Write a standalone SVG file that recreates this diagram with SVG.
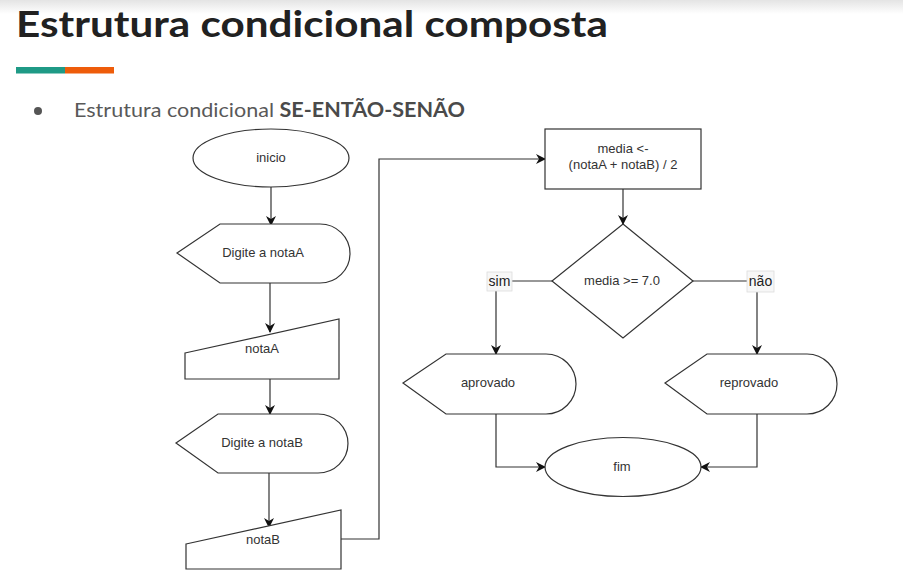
<svg xmlns="http://www.w3.org/2000/svg" width="903" height="579" viewBox="0 0 903 579">
  <defs>
    <linearGradient id="topShade" x1="0" y1="0" x2="0" y2="1">
      <stop offset="0" stop-color="#e4e4e4"/>
      <stop offset="1" stop-color="#ffffff"/>
    </linearGradient>
    <marker id="arrow" viewBox="0 0 10 10" refX="9" refY="5" markerWidth="10" markerHeight="10" markerUnits="userSpaceOnUse" orient="auto">
      <path d="M0,0 L10,5 L0,10 L3,5 z" fill="#111"/>
    </marker>
    <style>
      .shape { fill: #ffffff; stroke: #333333; stroke-width: 1.2; }
      .edge { fill: none; stroke: #333333; stroke-width: 1.2; }
      .lbl { font-family: "Liberation Sans", Arial, sans-serif; font-size: 13px; fill: #333333; text-anchor: middle; }
      .tag { font-family: "Liberation Sans", Arial, sans-serif; font-size: 14px; fill: #222222; text-anchor: middle; }
      .tagbox { fill: #f7f7f7; stroke: #dddddd; stroke-width: 0.8; }
    </style>
  </defs>

  <rect x="0" y="0" width="903" height="579" fill="#ffffff"/>
  <rect x="0" y="0" width="903" height="14" fill="url(#topShade)"/>

  <!-- heading -->
  <text x="16" y="37" font-family="Lato, 'Open Sans', sans-serif" font-weight="700" font-size="37" fill="#212121" textLength="592" lengthAdjust="spacingAndGlyphs">Estrutura condicional composta</text>
  <rect x="16" y="67" width="49" height="6.5" fill="#1f9a86"/>
  <rect x="65" y="67" width="49" height="6.5" fill="#ee5c0a"/>

  <circle cx="38" cy="111" r="4" fill="#555555"/>
  <text x="74" y="117" font-family="Lato, 'Open Sans', sans-serif" font-size="20" fill="#595959" textLength="391" lengthAdjust="spacingAndGlyphs">Estrutura condicional <tspan font-weight="700" fill="#4a4a4a">SE-ENTÃO-SENÃO</tspan></text>

  <!-- connectors -->
  <g id="connectors">
    <path class="edge" d="M271,187 V225" marker-end="url(#arrow)"/>
    <path class="edge" d="M270,283 V332" marker-end="url(#arrow)"/>
    <path class="edge" d="M270,379 V414" marker-end="url(#arrow)"/>
    <path class="edge" d="M269,473 V527" marker-end="url(#arrow)"/>
    <path class="edge" d="M341,539 H379 V159 H545" marker-end="url(#arrow)"/>
    <path class="edge" d="M623,189 V224" marker-end="url(#arrow)"/>
    <path class="edge" d="M552,281 H496 V354" marker-end="url(#arrow)"/>
    <path class="edge" d="M693,281 H757 V354" marker-end="url(#arrow)"/>
    <path class="edge" d="M496,414 V467 H545" marker-end="url(#arrow)"/>
    <path class="edge" d="M757,414 V467 H701" marker-end="url(#arrow)"/>
    <rect class="tagbox" x="487" y="272" width="25" height="19"/>
    <text class="tag" x="499.5" y="286">sim</text>
    <rect class="tagbox" x="747" y="271" width="27" height="21"/>
    <text class="tag" x="760.5" y="286">não</text>
  </g>

  <g id="inicio">
    <ellipse class="shape" cx="271" cy="158" rx="78" ry="29"/>
    <text class="lbl" x="271" y="162">inicio</text>
  </g>

  <g id="digite-notaA">
    <path class="shape" d="M177,253 L220,224 H320 A30,29.5 0 0 1 320,283 H220 Z"/>
    <text class="lbl" x="263" y="257">Digite a notaA</text>
  </g>

  <g id="ler-notaA">
    <path class="shape" d="M185,353 L339,319 V379 H185 Z"/>
    <text class="lbl" x="262" y="353">notaA</text>
  </g>

  <g id="digite-notaB">
    <path class="shape" d="M176,443 L218,414 H318 A30,29.5 0 0 1 318,473 H218 Z"/>
    <text class="lbl" x="262" y="447">Digite a notaB</text>
  </g>

  <g id="ler-notaB">
    <path class="shape" d="M186,544 L341,510 V569 H186 Z"/>
    <text class="lbl" x="263" y="544">notaB</text>
  </g>

  <g id="calc-media">
    <rect class="shape" x="545" y="129" width="156" height="60"/>
    <text class="lbl" x="623" y="153">media &lt;-</text>
    <text class="lbl" x="623" y="169">(notaA + notaB) / 2</text>
  </g>

  <g id="decisao">
    <path class="shape" d="M623,224 L693,281 L623,338 L552,281 Z"/>
    <text class="lbl" x="622" y="285">media &gt;= 7.0</text>
  </g>

  <g id="aprovado">
    <path class="shape" d="M403,383 L446,354 H546 A30,30 0 0 1 546,414 H446 Z"/>
    <text class="lbl" x="488" y="387">aprovado</text>
  </g>

  <g id="reprovado">
    <path class="shape" d="M665,383 L707,354 H807 A30,30 0 0 1 807,414 H707 Z"/>
    <text class="lbl" x="749" y="387">reprovado</text>
  </g>

  <g id="fim">
    <ellipse class="shape" cx="623" cy="467" rx="78" ry="29.5"/>
    <text class="lbl" x="622" y="471">fim</text>
  </g>
</svg>
